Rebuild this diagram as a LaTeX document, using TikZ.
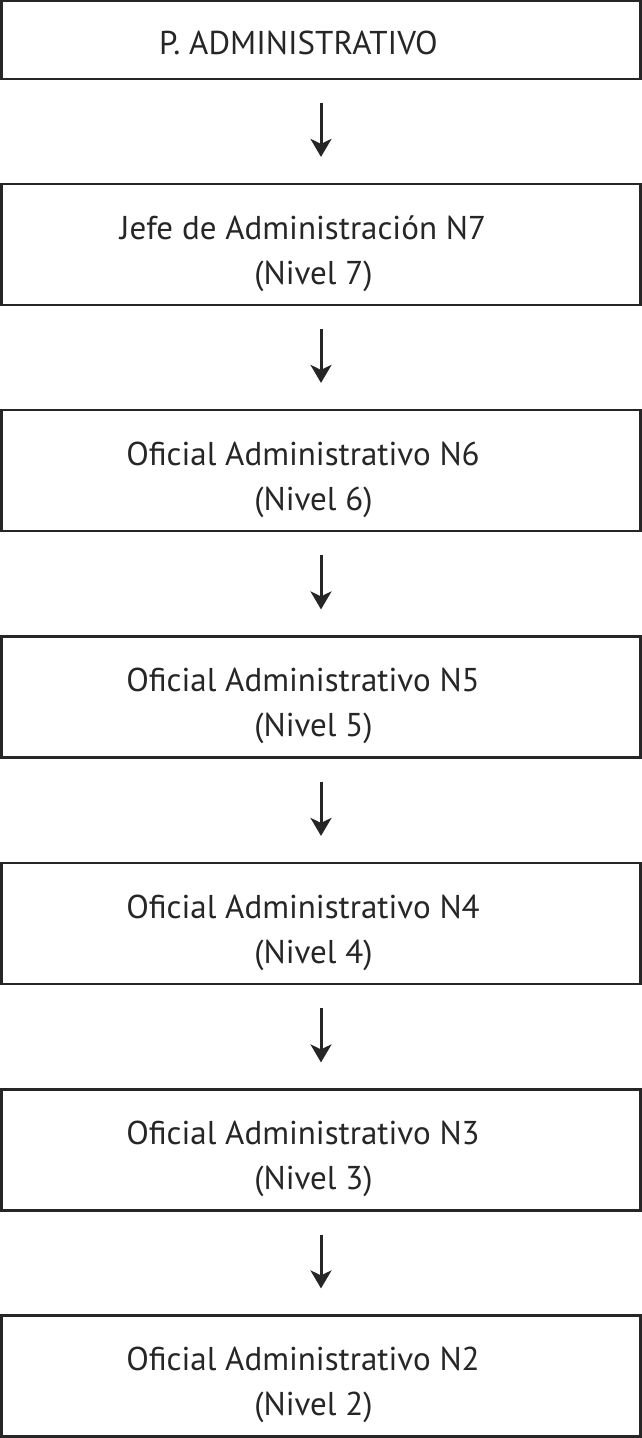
\documentclass[tikz,border=0pt]{standalone}
\usepackage{fontspec}
\setmainfont{PT Sans}
\usetikzlibrary{arrows.meta}
\newcommand{\trail}{\hspace*{21pt}}
\begin{document}
\begin{tikzpicture}[x=1pt,y=-1pt,
  box/.style={draw=black!85, line width=2.2pt, minimum width=639pt, inner sep=0pt},
  txt/.style={align=center, font=\fontsize{33}{45}\selectfont, text=black!85, inner sep=0pt},
  lbl/.style={label={[txt, xshift=-7.5pt, yshift=-9pt]center:#1}},
  conn/.style={line width=3pt, draw=black!85, -{Stealth[length=18pt,width=21pt,inset=5pt]}, shorten <=23pt, shorten >=26pt}]
\useasboundingbox (0,0) rectangle (642,1438);
\fill[white] (0,0) rectangle (642,1438);
\node[box, minimum height=78pt, label={[txt, xshift=-22.5pt, yshift=-3pt]center:P. ADMINISTRATIVO}] (b1) at (321,40) {};
\node[box, minimum height=121pt, lbl={Jefe de Administración N7\trail\\(Nivel 7)}] (b2) at (321,244.5) {};
\node[box, minimum height=121pt, lbl={Oficial Administrativo N6\trail\\(Nivel 6)}] (b3) at (321,470.5) {};
\node[box, minimum height=121pt, lbl={Oficial Administrativo N5\trail\\(Nivel 5)}] (b4) at (321,697) {};
\node[box, minimum height=121pt, lbl={Oficial Administrativo N4\trail\\(Nivel 4)}] (b5) at (321,923.5) {};
\node[box, minimum height=121pt, lbl={Oficial Administrativo N3\trail\\(Nivel 3)}] (b6) at (321,1150) {};
\node[box, minimum height=121pt, lbl={Oficial Administrativo N2\trail\\(Nivel 2)}] (b7) at (321,1376) {};
\draw[conn] (b1) -- (b2);
\draw[conn] (b2) -- (b3);
\draw[conn] (b3) -- (b4);
\draw[conn] (b4) -- (b5);
\draw[conn] (b5) -- (b6);
\draw[conn] (b6) -- (b7);
\end{tikzpicture}
\end{document}
